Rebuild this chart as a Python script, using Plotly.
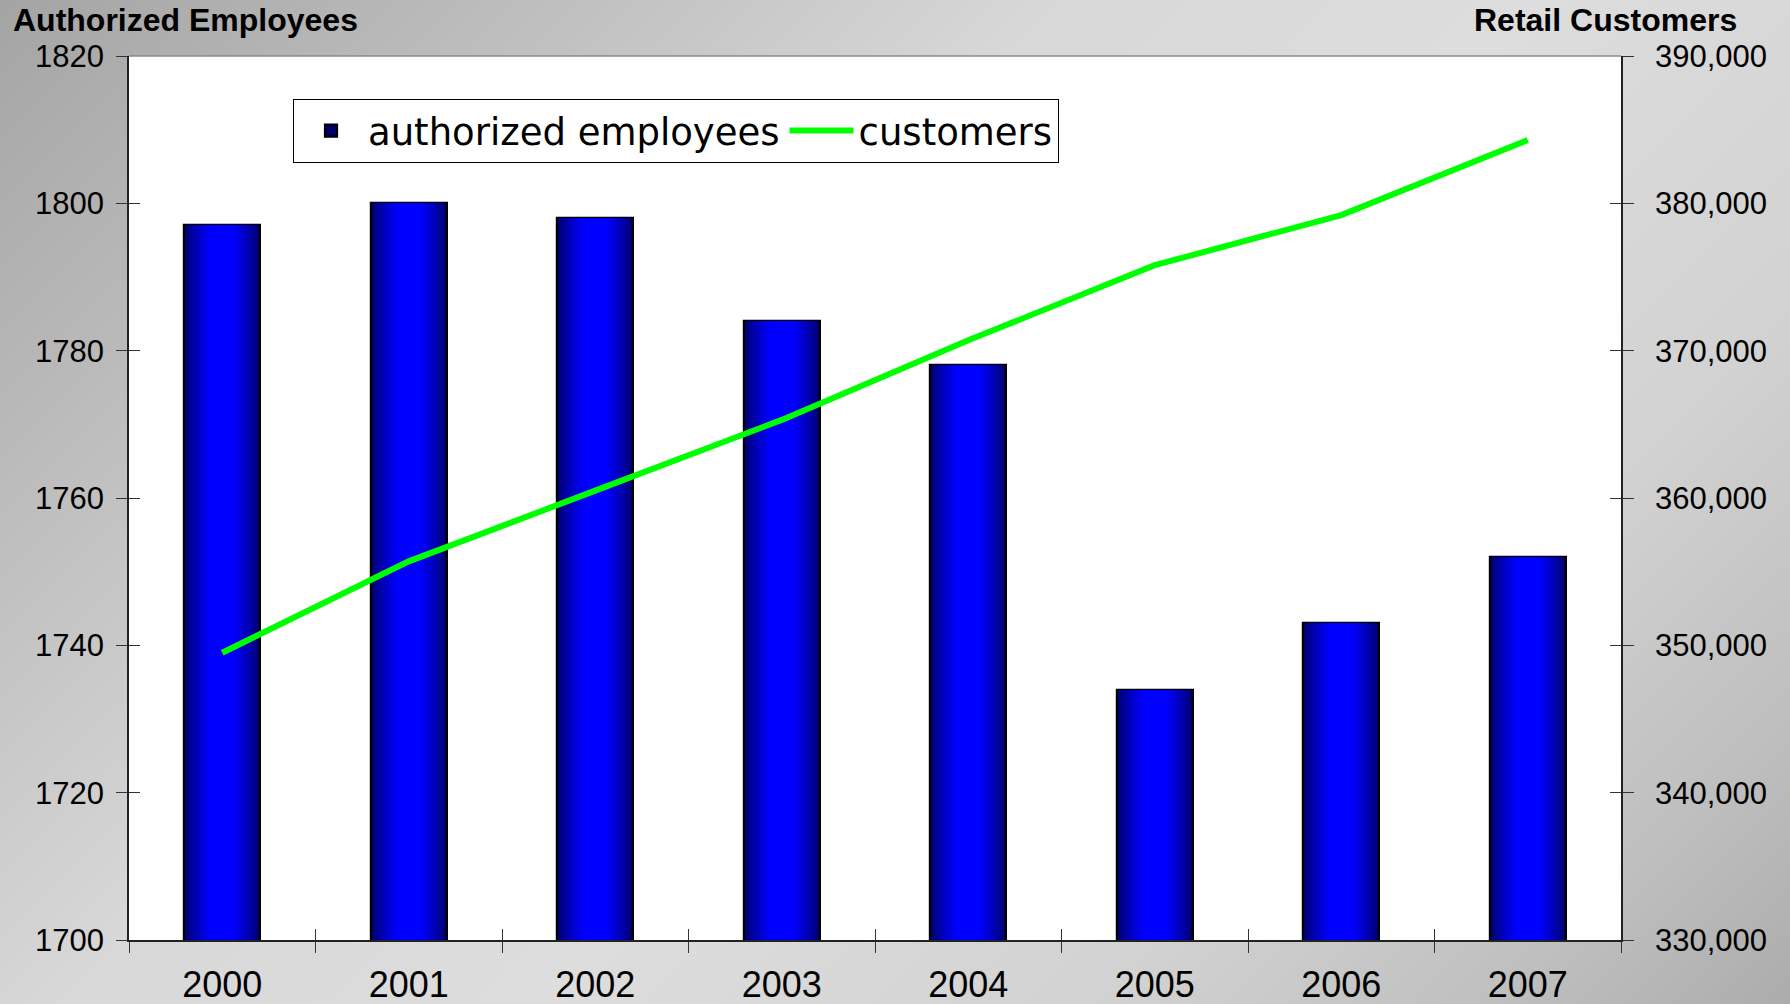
import base64
import plotly.graph_objects as go

# ---- data ----
years = ["2000", "2001", "2002", "2003", "2004", "2005", "2006", "2007"]
employees = [1797, 1800, 1798, 1784, 1778, 1734, 1743, 1752]
customers = [349500, 355700, 360500, 365300, 370700, 375800, 379200, 384300]
emp_ticks = [1700, 1720, 1740, 1760, 1780, 1800, 1820]
cust_ticks = [330000, 340000, 350000, 360000, 370000, 380000, 390000]

FONT = "Liberation Sans, Arial, sans-serif"
W, H = 1790, 1004
ML, MR, MT, MB = 129, 169, 56, 64
PW, PH = W - ML - MR, H - MT - MB

fig = go.Figure()

# bars drawn as overlaid layers to mimic the horizontal navy->blue->navy gradient
N = 14
W0 = 0.41
for i in range(N):
    t = i / (N - 1)
    w = W0 * (1 - 0.68 * t)
    b = int(round(105 + (255 - 105) * (t ** 0.8)))
    color = f"rgb(0,0,{b})"
    fig.add_trace(go.Bar(
        x=years, y=employees, width=w,
        marker=dict(color=color,
                    line=dict(color="black", width=2.2 if i == 0 else 0)),
        name="authorized employees",
        showlegend=(i == 0),
        hoverinfo="skip" if i else None,
    ))

fig.add_trace(go.Scatter(
    x=years, y=customers, yaxis="y2", mode="lines",
    line=dict(color="#00ff00", width=6),
    name="customers",
))

# dummy traces to activate the inside-tick overlay axes
fig.add_trace(go.Scatter(x=[None], y=[None], xaxis="x3", yaxis="y3",
                         showlegend=False, hoverinfo="skip"))
fig.add_trace(go.Scatter(x=[None], y=[None], xaxis="x3", yaxis="y4",
                         showlegend=False, hoverinfo="skip"))

# gradient background image
svg = (
    f'<svg xmlns="http://www.w3.org/2000/svg" width="{W}" height="{H}" viewBox="0 0 {W} {H}" preserveAspectRatio="none">'
    '<defs><linearGradient id="g" gradientUnits="userSpaceOnUse" x1="0" y1="0" x2="1397" y2="1397">'
    '<stop offset="0" stop-color="#a4a4a4"/>'
    '<stop offset="0.18" stop-color="#bcbcbc"/>'
    '<stop offset="0.38" stop-color="#d8d8d8"/>'
    '<stop offset="0.55" stop-color="#dddddd"/>'
    '<stop offset="0.75" stop-color="#d2d2d2"/>'
    '<stop offset="0.9" stop-color="#bebebe"/>'
    '<stop offset="1" stop-color="#acacac"/>'
    '</linearGradient></defs>'
    f'<rect x="0" y="0" width="{W}" height="{H}" fill="url(#g)"/></svg>'
)
src = "data:image/svg+xml;base64," + base64.b64encode(svg.encode()).decode()

tickfont = dict(family=FONT, size=31, color="black")
tick_common = dict(ticklen=11, tickwidth=1.2, tickcolor="#333", automargin=False,
                   showgrid=False, zeroline=False)

fig.update_layout(
    width=W, height=H,
    margin=dict(l=ML, r=MR, t=MT, b=MB, pad=0, autoexpand=False),
    paper_bgcolor="#c8c8c8",
    plot_bgcolor="white",
    barmode="overlay",
    bargap=0,
    images=[dict(source=src, xref="paper", yref="paper",
                 x=-ML / PW, y=1 + MT / PH, sizex=W / PW, sizey=H / PH,
                 xanchor="left", yanchor="top", sizing="stretch", layer="below")],
    xaxis=dict(
        type="category", categoryorder="array", categoryarray=years,
        range=[-0.5, 7.5], tickson="boundaries", ticks="outside",
        showline=True, linecolor="#222", linewidth=1.5,
        tickfont=dict(family=FONT, size=36, color="black"),
        ticklabelstandoff=12, **tick_common,
    ),
    yaxis=dict(
        range=[1700, 1820], tickvals=emp_ticks, ticks="outside",
        showline=True, linecolor="#222", linewidth=1.5,
        tickfont=tickfont, ticklabelstandoff=6, **tick_common,
    ),
    yaxis2=dict(
        overlaying="y", side="right",
        range=[330000, 390000], tickvals=cust_ticks, tickformat=",d",
        ticks="outside", showline=True, linecolor="#222", linewidth=1.5,
        tickfont=tickfont, ticklabelstandoff=15, **tick_common,
    ),
    xaxis3=dict(
        overlaying="x", side="bottom", range=[-0.5, 7.5],
        tickvals=[i - 0.5 for i in range(len(years) + 1)],
        ticks="inside", showticklabels=False, showline=False, **tick_common,
    ),
    yaxis3=dict(
        overlaying="y", side="left", range=[1700, 1820], tickvals=emp_ticks,
        ticks="inside", showticklabels=False, showline=False, **tick_common,
    ),
    yaxis4=dict(
        overlaying="y", side="right", range=[330000, 390000], tickvals=cust_ticks,
        ticks="inside", showticklabels=False, showline=False, **tick_common,
    ),
    legend=dict(
        orientation="h", x=(293 - ML) / PW, y=(H - MB - 99) / PH,
        xanchor="left", yanchor="top",
        bgcolor="white", bordercolor="black", borderwidth=1,
        font=dict(family="DejaVu Sans, Liberation Sans, sans-serif", size=37, color="black"),
        itemwidth=64,
    ),
    shapes=[
        dict(type="rect", xref="paper", yref="paper", x0=0, x1=1, y0=0, y1=1,
             fillcolor="white", line=dict(width=0), layer="below"),
        dict(type="line", xref="paper", yref="paper", x0=0, x1=1, y0=1, y1=1,
             line=dict(color="#8a8a8a", width=1.5)),
    ],
    annotations=[
        dict(text="<b>Authorized Employees</b>", xref="paper", yref="paper",
             x=(11 - ML) / PW, y=(H - MB - 20) / PH, xanchor="left", yanchor="middle",
             showarrow=False, font=dict(family=FONT, size=32, color="black")),
        dict(text="<b>Retail Customers</b>", xref="paper", yref="paper",
             x=(1739 - ML) / PW, y=(H - MB - 20) / PH, xanchor="right", yanchor="middle",
             showarrow=False, font=dict(family=FONT, size=32, color="black")),
    ],
    showlegend=True,
)

fig.write_html("out.html", config={"displayModeBar": False},
               post_script="document.body.style.margin='0';document.body.style.overflow='hidden';")
